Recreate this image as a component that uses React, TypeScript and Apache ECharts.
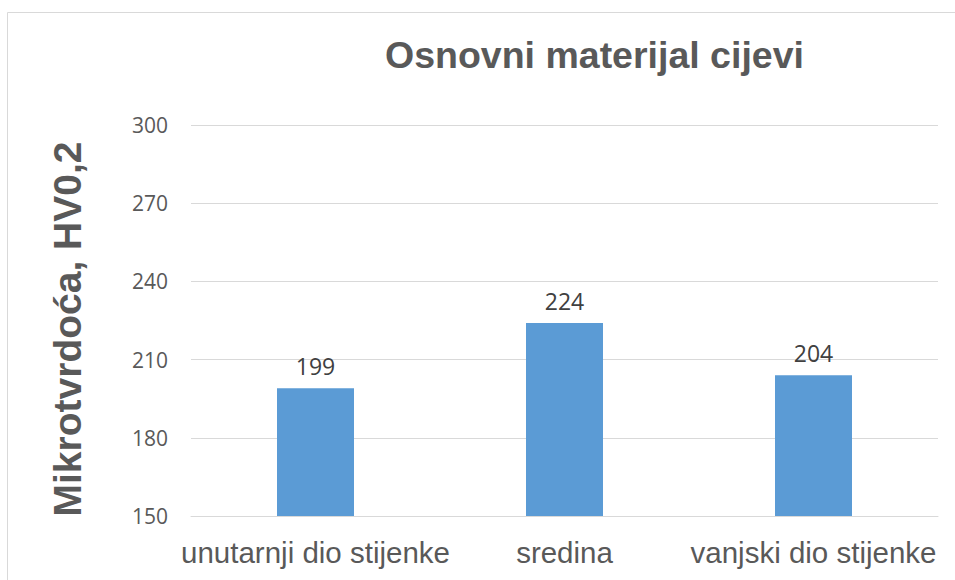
import React, { useEffect, useRef } from "react";
import * as echarts from "echarts";

const categories = ["unutarnji dio stijenke", "sredina", "vanjski dio stijenke"];
const values = [199, 224, 204];
const titleText = "Osnovni materijal cijevi";
const yAxisTitle = "Mikrotvrdoća, HV0,2";

export default function App() {
  const ref = useRef<HTMLDivElement>(null);
  useEffect(() => {
    if (!ref.current) return;
    const chart = echarts.init(ref.current, null, { renderer: "svg" });
    chart.setOption({
      animation: false,
      backgroundColor: "#ffffff",
      title: {
        text: titleText,
        left: 380,
        top: 31,
        textStyle: {
          fontFamily: "Liberation Sans",
          fontSize: 37.5,
          fontWeight: "bold",
          color: "#595959",
        },
      },
      graphic: [
        {
          type: "rect",
          shape: { x: 7.5, y: 12.5, width: 970, height: 600 },
          style: { fill: "none", stroke: "#d9d9d9", lineWidth: 1 },
          silent: true,
        },
        {
          type: "text",
          x: 67,
          y: 329,
          rotation: Math.PI / 2,
          style: {
            text: yAxisTitle,
            fontFamily: "Liberation Sans",
            fontSize: 39,
            fontWeight: "bold",
            fill: "#595959",
            align: "center",
            verticalAlign: "middle",
          },
        },
      ],
      grid: { left: 191, right: 17, top: 125, bottom: 64 },
      xAxis: {
        type: "category",
        data: categories,
        axisLine: { show: true, lineStyle: { color: "#d9d9d9", width: 1 } },
        axisTick: { show: false },
        axisLabel: {
          interval: 0,
          margin: 21,
          fontFamily: "Liberation Sans",
          fontSize: 29.5,
          color: "#595959",
        },
      },
      yAxis: {
        type: "value",
        min: 150,
        max: 300,
        interval: 30,
        axisLine: { show: false },
        axisTick: { show: false },
        splitLine: { lineStyle: { color: "#d9d9d9", width: 1 } },
        axisLabel: {
          margin: 23,
          fontFamily: "Open Sans",
          fontSize: 21,
          color: "#595959",
        },
      },
      series: [
        {
          type: "bar",
          data: values,
          barWidth: 77,
          itemStyle: { color: "#5b9bd5" },
          label: {
            show: true,
            position: "top",
            distance: 11,
            fontFamily: "Open Sans",
            fontSize: 23,
            color: "#404040",
          },
        },
      ],
    });
    return () => chart.dispose();
  }, []);
  return (
    <div
      ref={ref}
      style={{ position: "fixed", left: 0, top: 0, width: 955, height: 580 }}
    />
  );
}
